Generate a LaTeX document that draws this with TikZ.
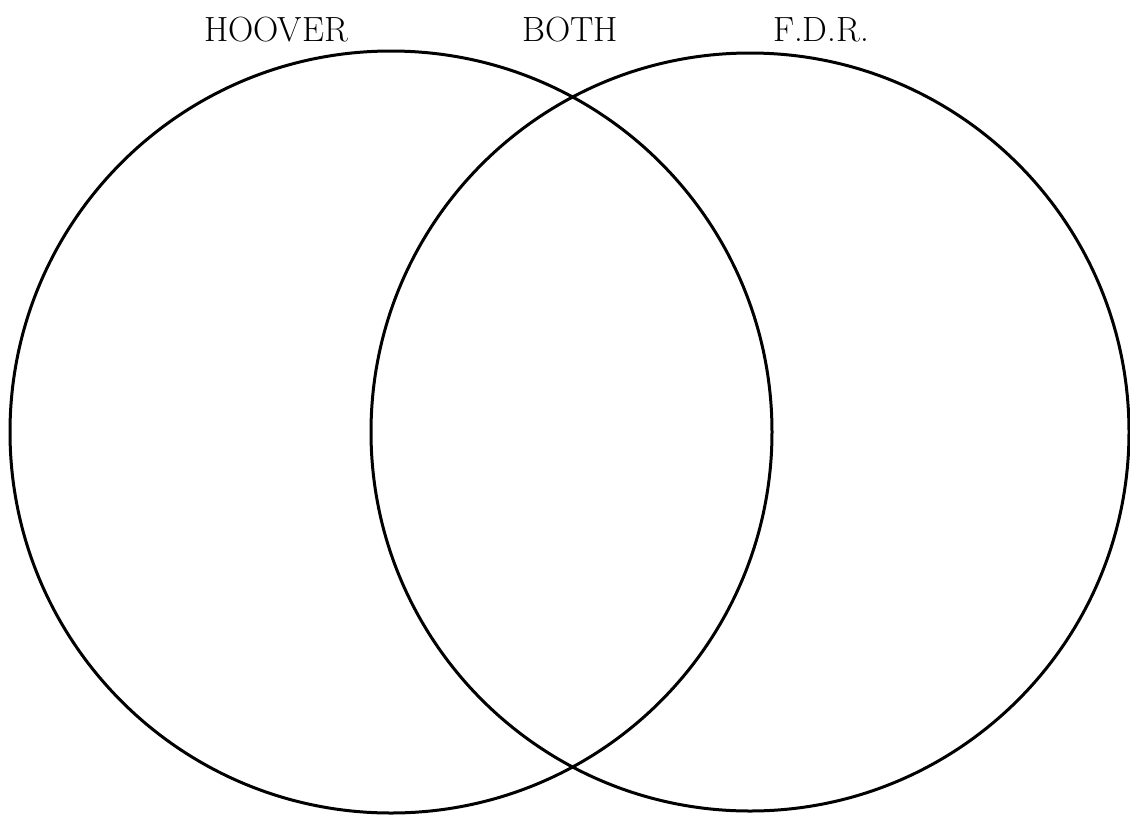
\documentclass[tikz,border=0pt]{standalone}
\begin{document}
\begin{tikzpicture}[x=1pt,y=-1pt,
  ring/.style={draw=black,line width=3pt,circle,inner sep=0pt},
  title/.style={font=\fontsize{35}{38}\selectfont,anchor=base,inner sep=0pt}]
\useasboundingbox[fill=white] (0,0) rectangle (1130,815);
\node[ring,minimum size=762pt] (hoover) at (391,432) {};
\node[ring,minimum size=758pt] (fdr) at (750,432) {};
\node[title] (th) at (276,41) {HOOVER};
\node[title] (tb) at (570,41) {BOTH};
\node[title] (tf) at (821,41) {F.D.R.};
\end{tikzpicture}
\end{document}
